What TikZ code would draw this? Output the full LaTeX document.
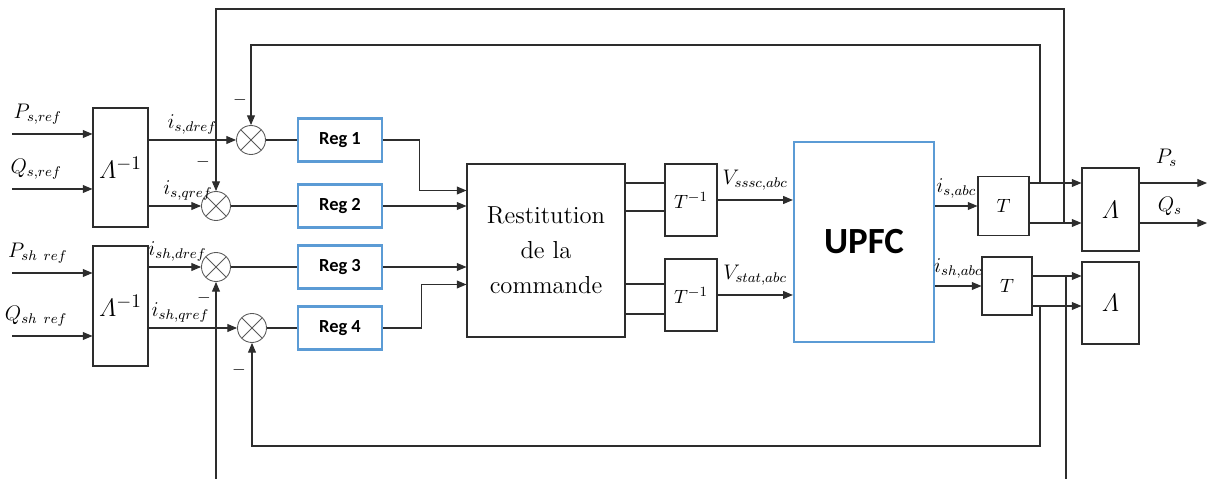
\documentclass[tikz,border=0pt]{standalone}
\usepackage{amsmath}
\usepackage{fontspec}
\usetikzlibrary{calc, arrows.meta}
\newfontfamily\calibri{Carlito}
\definecolor{regblue}{RGB}{91,155,213}
\definecolor{wiregrey}{RGB}{45,45,45}
\tikzset{
  blk/.style    = {draw=wiregrey, line width=0.6pt, inner sep=0pt},
  regblk/.style = {draw=regblue, line width=1.3pt, inner sep=0pt,
                   minimum width=1.68cm, minimum height=0.86cm,
                   font=\calibri\bfseries\fontsize{10.5}{12}\selectfont},
  % summing junction: circle with a cross, clipped by the circle itself
  sumnode/.style = {circle, draw=black!65, line width=0.5pt, inner sep=0pt,
                    minimum size=0.58cm,
                    path picture={\draw[black!65]
                      (path picture bounding box.north west) -- (path picture bounding box.south east)
                      (path picture bounding box.north east) -- (path picture bounding box.south west);}},
  wire/.style   = {draw=wiregrey, line width=0.6pt},
  sig/.style    = {wire, -{Triangle[length=5.5pt, width=4.5pt]}},
  lab/.style    = {font=\fontsize{12}{14}\selectfont, inner sep=1pt},
  minus/.style  = {font=\normalsize, inner sep=0pt},
}

\begin{document}
\begin{tikzpicture}[x=0.02cm, y=-0.02cm]
\useasboundingbox (0,0) rectangle (1211,479);
\clip (0,0) rectangle (1211,479);

% blocks
\node[blk, minimum width=1.1cm, minimum height=2.38cm, font=\fontsize{15.5}{18}\selectfont] (linv1) at (120.5,167.5) {$\varLambda^{-1}$};
\node[blk, minimum width=1.1cm, minimum height=2.4cm, font=\fontsize{15.5}{18}\selectfont]  (linv2) at (120.5,306) {$\varLambda^{-1}$};
\node[sumnode] (sum1) at (251,140) {};
\node[sumnode] (sum2) at (216,206) {};
\node[sumnode] (sum3) at (216,267) {};
\node[sumnode] (sum4) at (252,328) {};
\node[regblk] (reg1) at (340,140) {Reg 1};
\node[regblk] (reg2) at (340,206) {Reg 2};
\node[regblk] (reg3) at (340,267) {Reg 3};
\node[regblk] (reg4) at (340,328) {Reg 4};
\node[blk, minimum width=3.16cm, minimum height=3.46cm, align=center,
      font=\fontsize{14}{20}\selectfont] (rest) at (546,250.5) {Restitution\\de la\\commande};
\node[blk, minimum width=1.04cm, minimum height=1.44cm, font=\fontsize{11}{13}\selectfont] (tinv1) at (691,200) {$T^{-1}$};
\node[blk, minimum width=1.04cm, minimum height=1.44cm, font=\fontsize{11}{13}\selectfont] (tinv2) at (691,295) {$T^{-1}$};
\node[draw=regblue, line width=1.3pt, minimum width=2.8cm, minimum height=4cm,
      font=\calibri\bfseries\fontsize{21}{24}\selectfont] (upfc) at (864,242) {UPFC};
\node[blk, minimum width=1.02cm, minimum height=1.18cm, font=\fontsize{11}{13}\selectfont] (tm1) at (1003.5,206) {$T$};
\node[blk, minimum width=1.0cm, minimum height=1.16cm, font=\fontsize{11}{13}\selectfont]  (tm2) at (1007,286) {$T$};
\node[blk, minimum width=1.14cm, minimum height=1.66cm, font=\fontsize{15}{17}\selectfont] (lam1) at (1110.5,209.5) {$\varLambda$};
\node[blk, minimum width=1.14cm, minimum height=1.64cm, font=\fontsize{15}{17}\selectfont] (lam2) at (1110.5,303) {$\varLambda$};

\coordinate (inps)  at (12,134);
\coordinate (inqs)  at (12,189);
\coordinate (inpsh) at (12,273);
\coordinate (inqsh) at (12,336);
\coordinate (ps) at (1207,183);
\coordinate (qs) at (1207,223);
\coordinate (fdx)  at (1040,45);
\coordinate (fqx)  at (1064,9);
\coordinate (fshd) at (1066,495);
\coordinate (fshl) at (216,495);
\coordinate (fshq) at (1040,446);

% references
\draw[sig] (inps)  -- node[lab, above=4pt, pos=0.32] (lpsr)  {$P_{s,ref}$}   (inps -| linv1.west);
\draw[sig] (inqs)  -- node[lab, above=4pt, pos=0.3]  (lqsr)  {$Q_{s,ref}$}   (inqs -| linv1.west);
\draw[sig] (inpsh) -- node[lab, above=4pt, pos=0.32] (lpshr) {$P_{sh\ ref}$} (inpsh -| linv2.west);
\draw[sig] (inqsh) -- node[lab, above=4pt, pos=0.3]  (lqshr) {$Q_{sh\ ref}$} (inqsh -| linv2.west);

\draw[sig] (sum1 -| linv1.east) -- node[lab, above=2pt, pos=0.5]  (lisd)  {$i_{s,dref}$}  (sum1);
\draw[sig] (sum2 -| linv1.east) -- node[lab, above=2pt, pos=0.75] (lisq)  {$i_{s,qref}$}  (sum2);
\draw[sig] (sum3 -| linv2.east) -- node[lab, above=2pt, pos=0.55] (lishd) {$i_{sh,dref}$} (sum3);
\draw[sig] (sum4 -| linv2.east) -- node[lab, above=2pt, pos=0.36] (lishq) {$i_{sh,qref}$} (sum4);

\draw[wire] (sum1) -- (reg1);
\draw[wire] (sum2) -- (reg2);
\draw[wire] (sum3) -- (reg3);
\draw[wire] (sum4) -- (reg4);

\draw[sig] (reg1.east) -- ++(36,0) |- ([yshift=1.2cm]rest.west);
\draw[sig] (reg2) -- (reg2 -| rest.west);
\draw[sig] (reg3) -- (reg3 -| rest.west);
\draw[sig] (reg4.east) -- ++(38,0) |- ([yshift=-0.68cm]rest.west);

\draw[wire] ([yshift=0.34cm]tinv1.west) coordinate (a1) -- (a1 -| rest.east);
\draw[wire] ([yshift=-0.22cm]tinv1.west) coordinate (a2) -- (a2 -| rest.east);
\draw[wire] ([yshift=0.22cm]tinv2.west) coordinate (a3) -- (a3 -| rest.east);
\draw[wire] ([yshift=-0.38cm]tinv2.west) coordinate (a4) -- (a4 -| rest.east);

\draw[sig] (tinv1) -- node[lab, above=4pt] (lvsssc) {$V_{sssc,abc}$} (tinv1 -| upfc.west);
\draw[sig] (tinv2) -- node[lab, above=4pt] (lvstat) {$V_{stat,abc}$} (tinv2 -| upfc.west);

\draw[sig] (tm1 -| upfc.east) -- node[lab, above=3pt] (lisabc)  {$i_{s,abc}$}  (tm1);
\draw[sig] (tm2 -| upfc.east) -- node[lab, above=3pt] (lishabc) {$i_{sh,abc}$} (tm2);

\draw[sig] (tm1.east |- ps) -- (lam1.west |- ps);
\draw[sig] (tm1.east |- qs) -- (lam1.west |- qs);
\draw[sig] (lam1.east |- ps) -- node[lab, above=8pt, pos=0.4] (lps) {$P_s$} (ps);
\draw[sig] (lam1.east |- qs) -- node[lab, above=3pt, pos=0.45] (lqs) {$Q_s$} (qs);

\draw[sig] ([yshift=0.2cm]tm2.east) coordinate (b1) -- (b1 -| lam2.west);
\draw[sig] ([yshift=-0.4cm]tm2.east) coordinate (b2) -- (b2 -| lam2.west);

% feedback loops
\draw[sig] (fdx |- ps) -- (fdx) -| (sum1);
\draw[sig] (fqx |- qs) -- (fqx) -| (sum2);
\draw[sig] (fshd |- b1) -- (fshd) -- (fshl) -- (sum3);
\draw[sig] (fshq |- b2) -- (fshq) -| (sum4);

\node[minus] (m1) at (240,100) {$-$};
\node[minus] (m2) at (203,162) {$-$};
\node[minus] (m3) at (204,298) {$-$};
\node[minus] (m4) at (239,370) {$-$};
\end{tikzpicture}
\end{document}
